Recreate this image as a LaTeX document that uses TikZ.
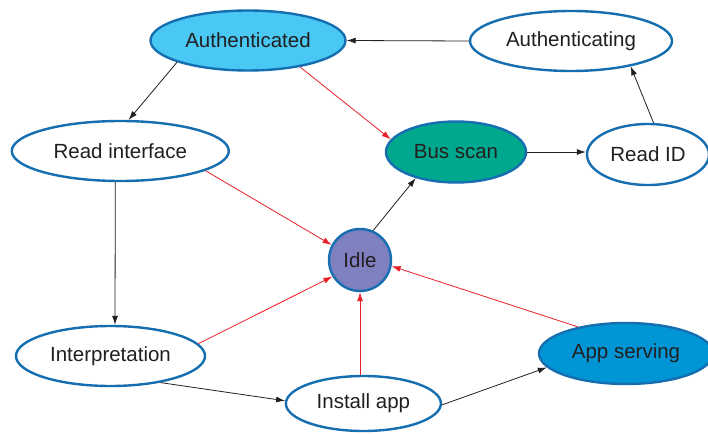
\documentclass[tikz,border=0pt]{standalone}
\usepackage{fontspec}
\setmainfont{Liberation Sans}
\usetikzlibrary{shapes.geometric,arrows.meta,calc}
\definecolor{bord}{RGB}{20,110,175}
\definecolor{authfill}{RGB}{72,200,242}
\definecolor{busfill}{RGB}{0,168,142}
\definecolor{idlefill}{RGB}{127,128,192}
\definecolor{appfill}{RGB}{0,150,214}
\definecolor{redline}{RGB}{232,32,42}
\definecolor{txt}{RGB}{35,31,32}
\begin{document}
\begin{tikzpicture}[x=1pt,y=-1pt,
  st/.style={ellipse, draw=bord, line width=2.4pt, fill=white, inner sep=0pt, text=txt, font=\fontsize{20.5}{24}\selectfont},
  blk/.style={draw=txt, line width=0.8pt, -{Latex[length=9pt,width=6pt]}},
  rd/.style={draw=redline, line width=0.8pt, -{Latex[length=9pt,width=6pt]}}]
\clip (0,0) rectangle (708,433);
\fill[white] (0,0) rectangle (708,433);
% nodes
\node[st, fill=authfill, minimum width=195pt, minimum height=60pt] (ated) at (248,40.5) {Authenticated};
\node[st, minimum width=202pt, minimum height=60pt] (ating) at (571,41) {Authenticating};
\node[st, minimum width=217pt, minimum height=60pt] (ri) at (120.3,151) {Read interface};
\node[st, fill=busfill, minimum width=140pt, minimum height=61pt] (bus) at (456,152) {Bus scan};
\node[st, minimum width=122pt, minimum height=61pt] (rid) at (648,154.5) {Read ID};
\node[st, circle, fill=idlefill, minimum size=62pt] (idle) at (360,260) {Idle};
\node[st, minimum width=189pt, minimum height=60pt] (interp) at (110.5,356) {Interpretation};
\node[st, minimum width=155pt, minimum height=55pt] (install) at (363.4,403.5) {Install app};
\node[st, fill=appfill, minimum width=174pt, minimum height=61pt] (app) at (626,353.5) {App serving};
% connectors
\draw[blk] (ating.west) -- (ated.east);
\draw[blk] (ated.197) -- (ri.75);
\draw[rd] (ated.333) -- (bus.169);
\draw[blk] (bus.east) -- (bus.east -| rid.west);
\draw[blk] (rid.80) -- (ating.337);
\draw[rd] (ri.347) -- (idle.152);
\draw[blk] ($(ri.south)+(-5,0)$) -- ($(interp.north)+(4.5,0)$);
\draw[blk] (idle.66) -- (bus.213);
\draw[rd] (interp.8) -- (idle.211);
\draw[blk] (interp.332) -- (install.178);
\draw[rd] (install.north -| idle.south) -- (idle.south);
\draw[rd] (app.151) -- (idle.349);
\draw[blk] (install.359) -- (app.190);
\end{tikzpicture}
\end{document}
